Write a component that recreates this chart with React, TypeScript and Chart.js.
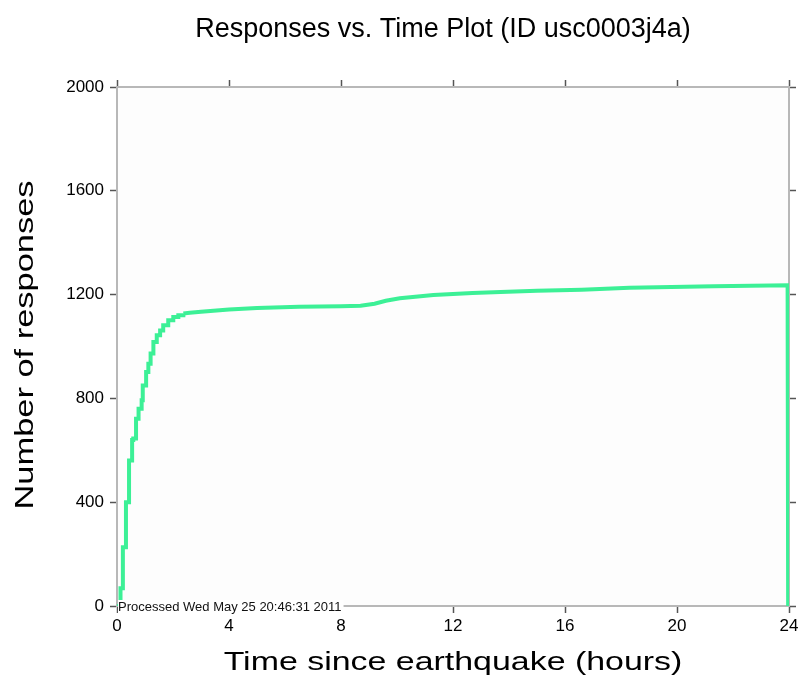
import React, { useEffect, useRef } from "react";
import { Chart, registerables } from "chart.js";

Chart.register(...registerables);

const titleText = "Responses vs. Time Plot (ID usc0003j4a)";
const xTitle = "Time since earthquake (hours)";
const yTitle = "Number of responses";
const processedText = "Processed Wed May 25 20:46:31 2011";

// early part: visible steps (hours since earthquake / cumulative responses)
const earlyHours = [
  0.0, 0.125, 0.21, 0.32, 0.43, 0.54, 0.58, 0.68, 0.77, 0.88, 0.92, 1.04, 1.12, 1.2, 1.3, 1.42,
  1.54, 1.65, 1.83, 2.01, 2.19, 2.37,
];
const earlyResponses = [
  0, 68, 226, 400, 561, 640, 645, 722, 760, 793, 850, 902, 934, 973, 1017, 1043,
  1062, 1082, 1101, 1114, 1120, 1127,
];
// later part: many tiny steps, reads as a smooth curve, then drops at the end
const lateHours = [
  2.37, 2.6, 3.0, 4.0, 5.0, 6.5, 8.0, 8.7, 9.2, 9.6, 10.1, 11.3, 12.7, 13.7, 15.0, 16.6,
  18.3, 21.3, 23.95, 23.97,
];
const lateResponses = [
  1127, 1130, 1134, 1143, 1148, 1153, 1155, 1157, 1165, 1176, 1186, 1198, 1206, 1210, 1215, 1219,
  1226, 1232, 1236, 0,
];

const xTicksMax = 24;
const xStep = 4;
const yTicksMax = 2000;
const yStep = 400;

export default function App() {
  const ref = useRef<HTMLCanvasElement>(null);

  useEffect(() => {
    if (!ref.current) return;
    const early = earlyHours.map((h, i) => ({ x: h, y: earlyResponses[i] }));
    const late = lateHours.map((h, i) => ({ x: h, y: lateResponses[i] }));

    const gridOpts = {
      drawOnChartArea: false,
      tickLength: 7,
      tickColor: "#555",
      tickWidth: 1.5,
    };
    const borderOpts = { color: "#b8b8b8", width: 2 };
    const tickFont = { family: "'Liberation Sans', Arial, sans-serif", size: 17 };
    const plain = (v: any) => String(v);

    const decor = {
      id: "decor",
      beforeDraw(chart: any) {
        const { ctx, chartArea } = chart;
        ctx.save();
        ctx.fillStyle = "#fdfdfd";
        ctx.fillRect(chartArea.left, chartArea.top, chartArea.right - chartArea.left, chartArea.bottom - chartArea.top);
        ctx.restore();
      },
      afterDraw(chart: any) {
        const { ctx, chartArea } = chart;
        ctx.save();
        ctx.fillStyle = "#000";
        ctx.font = "27px 'Liberation Sans', Arial, sans-serif";
        ctx.textAlign = "center";
        ctx.textBaseline = "alphabetic";
        ctx.fillText(titleText, 443, 37);

        ctx.save();
        ctx.font = "25.5px 'Liberation Sans', Arial, sans-serif";
        ctx.translate((chartArea.left + chartArea.right) / 2, 670);
        ctx.scale(1.33, 1);
        ctx.fillText(xTitle, 0, 0);
        ctx.restore();

        ctx.save();
        ctx.font = "25.5px 'Liberation Sans', Arial, sans-serif";
        ctx.translate(33, 345);
        ctx.rotate(-Math.PI / 2);
        ctx.scale(1.35, 1);
        ctx.fillText(yTitle, 0, 0);
        ctx.restore();

        ctx.font = "13px 'Liberation Sans', Arial, sans-serif";
        ctx.textAlign = "left";
        const w = ctx.measureText(processedText).width;
        ctx.fillStyle = "#ffffff";
        ctx.fillRect(chartArea.left + 1, chartArea.bottom - 6, w + 2, 13);
        ctx.fillStyle = "#111";
        ctx.fillText(processedText, chartArea.left + 1, chartArea.bottom + 5);
        ctx.restore();
      },
    };

    const lineStyle = {
      borderColor: "#3cf096",
      borderWidth: 4,
      pointRadius: 0,
      fill: false,
    };

    const chart = new Chart(ref.current, {
      type: "line",
      data: {
        datasets: [
          { ...lineStyle, data: early, stepped: true },
          { ...lineStyle, data: late, stepped: false, tension: 0 },
        ],
      },
      options: {
        animation: false,
        responsive: false,
        maintainAspectRatio: false,
        layout: { padding: 0 },
        plugins: { legend: { display: false }, title: { display: false }, tooltip: { enabled: false } },
        scales: {
          x: {
            type: "linear",
            position: "bottom",
            min: 0,
            max: xTicksMax,
            ticks: { stepSize: xStep, color: "#000", font: tickFont, padding: 3, maxRotation: 0, callback: plain },
            grid: gridOpts,
            border: borderOpts,
            afterFit: (s: any) => { s.height = 79; s.paddingLeft = 0; s.paddingRight = 0; },
          },
          x2: {
            type: "linear",
            position: "top",
            min: 0,
            max: xTicksMax,
            ticks: { stepSize: xStep, display: false },
            grid: gridOpts,
            border: borderOpts,
            afterFit: (s: any) => { s.height = 87; s.paddingLeft = 0; s.paddingRight = 0; },
          },
          y: {
            type: "linear",
            position: "left",
            min: 0,
            max: yTicksMax,
            ticks: { stepSize: yStep, color: "#000", font: tickFont, padding: 6, callback: plain },
            grid: gridOpts,
            border: borderOpts,
            afterFit: (s: any) => { s.width = 117; s.paddingTop = 0; s.paddingBottom = 0; },
          },
          y2: {
            type: "linear",
            position: "right",
            min: 0,
            max: yTicksMax,
            ticks: { stepSize: yStep, display: false },
            grid: gridOpts,
            border: borderOpts,
            afterFit: (s: any) => { s.width = 9; s.paddingTop = 0; s.paddingBottom = 0; },
          },
        },
      },
      plugins: [decor],
    });
    return () => chart.destroy();
  }, []);

  return (
    <div style={{ position: "fixed", left: 0, top: 0, width: 798, height: 685, background: "#fff" }}>
      <canvas ref={ref} width={798} height={685} style={{ display: "block", width: 798, height: 685 }} />
    </div>
  );
}
